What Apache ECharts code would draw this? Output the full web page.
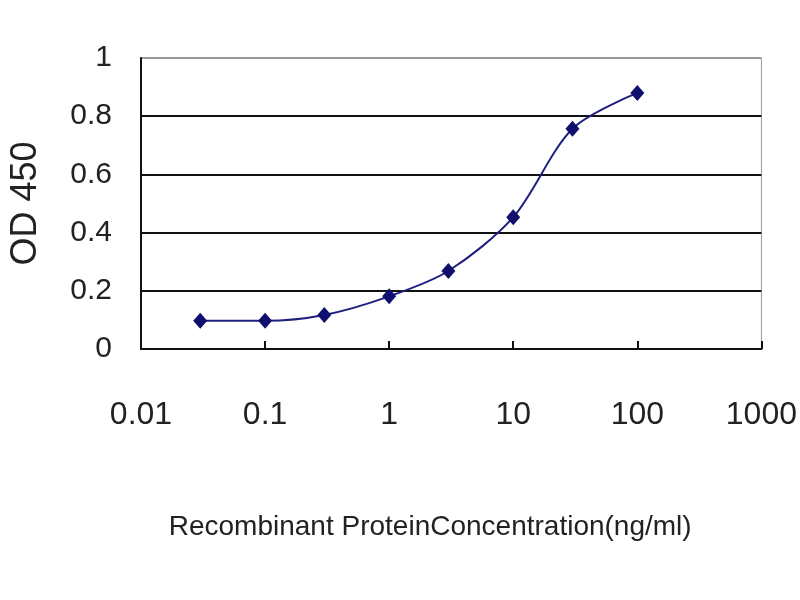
<!DOCTYPE html>
<html>
<head>
<meta charset="utf-8">
<script src="https://cdn.jsdelivr.net/npm/echarts@6/dist/echarts.min.js"></script>
<style>
  html, body { margin: 0; padding: 0; background: #fff; }
  #main { width: 800px; height: 600px; }
</style>
</head>
<body>
<div id="main"></div>
<script>
// 浓度 (ng/ml) 与 OD450 读数
const concentrations = [0.03, 0.1, 0.3, 1, 3, 10, 30, 100]
const od450 = [0.097, 0.097, 0.117, 0.181, 0.268, 0.453, 0.757, 0.88]
const yTicks = [0, 0.2, 0.4, 0.6, 0.8, 1]
const xTicks = [0.01, 0.1, 1, 10, 100, 1000]

const chart = echarts.init(document.getElementById('main'))

const option = {
  backgroundColor: '#fff',
  animation: false,
  textStyle: { fontFamily: 'Liberation Sans, Arial, sans-serif' },
  grid: {
    left: 140, right: 38, top: 58, bottom: 251,
    show: true, borderColor: '#9a9a9a', borderWidth: 1
  },
  xAxis: {
    type: 'log',
    logBase: 10,
    min: 0.01,
    max: 1000,
    name: 'Recombinant ProteinConcentration(ng/ml)',
    nameLocation: 'middle',
    nameGap: 164,
    nameTextStyle: { fontSize: 28, color: '#222', padding: [0, 42, 0, 0] },
    axisLine: { lineStyle: { color: '#111', width: 2 } },
    axisTick: { show: true, inside: true, length: 8, lineStyle: { color: '#111', width: 2 } },
    axisLabel: {
      fontSize: 32, color: '#222', margin: 50,
      formatter: function (v) {
        // 去掉千位分隔符
        const t = xTicks.find(x => Math.abs(Math.log10(x) - Math.log10(v)) < 1e-6)
        return t !== undefined ? String(t) : ''
      }
    },
    splitLine: { show: false }
  },
  yAxis: {
    type: 'value',
    min: 0,
    max: 1,
    interval: 0.2,
    name: 'OD 450',
    nameLocation: 'middle',
    nameGap: 97,
    nameTextStyle: { fontSize: 36, color: '#222' },
    axisLine: { show: true, lineStyle: { color: '#111', width: 2 } },
    axisTick: { show: false },
    axisLabel: {
      fontSize: 30, color: '#222', margin: 29,
      formatter: function (v) { return yTicks.indexOf(v) >= 0 ? String(v) : '' }
    },
    splitLine: {
      show: true,
      lineStyle: { color: ['#111', '#111', '#111', '#111', '#111', '#9a9a9a'], width: 2 }
    }
  },
  series: [{
    name: 'OD 450',
    type: 'line',
    data: concentrations.map((c, i) => [c, od450[i]]),
    smooth: 0.3,
    symbol: 'diamond',
    symbolSize: [14, 16],
    itemStyle: { color: '#0f0f6e' },
    lineStyle: { color: '#1f1f80', width: 2 }
  }]
}

chart.setOption(option)
</script>
</body>
</html>
